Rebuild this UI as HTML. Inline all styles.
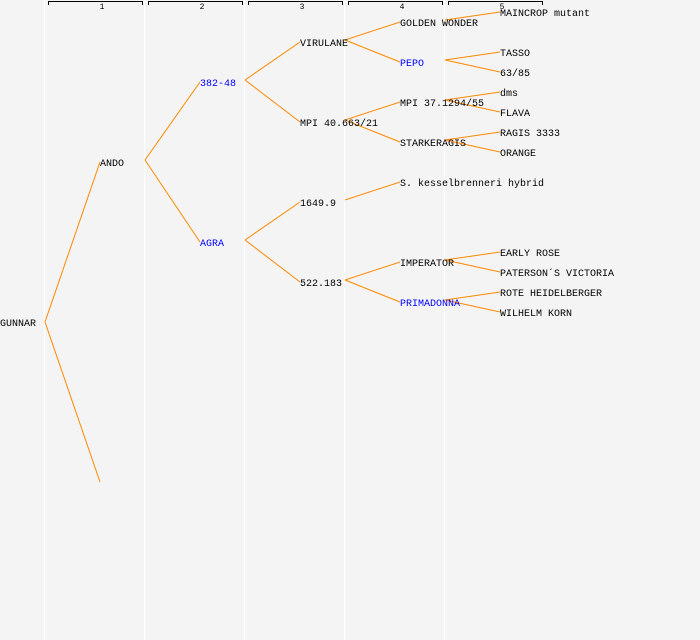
<!DOCTYPE html>
<html><head><meta charset="utf-8"><style>
html,body{margin:0;padding:0;background:#f4f4f4;}
svg{display:block;}
text{font-family:"Liberation Mono","DejaVu Sans Mono",monospace;font-size:10px;fill:#000;}
.b{fill:#0000ff;}
.n{font-size:8px;}
</style></head><body>
<svg width="700" height="640" xmlns="http://www.w3.org/2000/svg">
<rect width="700" height="640" fill="#f4f4f4"/>
<g stroke="#ffffff" stroke-width="1">
<line x1="44.5" y1="0" x2="44.5" y2="640"/><line x1="144.5" y1="0" x2="144.5" y2="640"/>
<line x1="244.5" y1="0" x2="244.5" y2="640"/><line x1="344.5" y1="0" x2="344.5" y2="640"/>
<line x1="444.5" y1="0" x2="444.5" y2="640"/>
</g>
<g stroke="#000" stroke-width="1" fill="none">
<path d="M48.5,5 V1.5 H142.5 V5"/><path d="M148.5,5 V1.5 H242.5 V5"/>
<path d="M248.5,5 V1.5 H342.5 V5"/><path d="M348.5,5 V1.5 H442.5 V5"/>
<path d="M448.5,5 V1.5 H542.5 V5"/>
</g>
<g class="n" text-anchor="middle">
<text class="n" x="102" y="9">1</text><text class="n" x="202" y="9">2</text>
<text class="n" x="302" y="9">3</text><text class="n" x="402" y="9">4</text>
<text class="n" x="502" y="9">5</text>
</g>
<g stroke="#ff8800" stroke-width="1" fill="none">
<line x1="45" y1="322" x2="100" y2="162"/><line x1="45" y1="322" x2="100" y2="482"/>
<line x1="145" y1="160" x2="200" y2="82"/><line x1="145" y1="160" x2="200" y2="242"/>
<line x1="245" y1="80" x2="300" y2="42"/><line x1="245" y1="80" x2="300" y2="122"/>
<line x1="245" y1="240" x2="300" y2="202"/><line x1="245" y1="240" x2="300" y2="282"/>
<line x1="345" y1="40" x2="400" y2="22"/><line x1="345" y1="40" x2="400" y2="62"/>
<line x1="345" y1="120" x2="400" y2="102"/><line x1="345" y1="120" x2="400" y2="142"/>
<line x1="345" y1="200" x2="400" y2="182"/>
<line x1="345" y1="280" x2="400" y2="262"/><line x1="345" y1="280" x2="400" y2="302"/>
<line x1="445" y1="20" x2="500" y2="12"/>
<line x1="445" y1="60" x2="500" y2="52"/><line x1="445" y1="60" x2="500" y2="72"/>
<line x1="445" y1="100" x2="500" y2="92"/><line x1="445" y1="100" x2="500" y2="112"/>
<line x1="445" y1="140" x2="500" y2="132"/><line x1="445" y1="140" x2="500" y2="152"/>
<line x1="445" y1="260" x2="500" y2="252"/><line x1="445" y1="260" x2="500" y2="272"/>
<line x1="445" y1="300" x2="500" y2="292"/><line x1="445" y1="300" x2="500" y2="312"/>
</g>
<text x="0" y="326">GUNNAR</text>
<text x="100" y="166">ANDO</text>
<text class="b" x="200" y="86">382-48</text>
<text class="b" x="200" y="246">AGRA</text>
<text x="300" y="46">VIRULANE</text>
<text x="300" y="126">MPI 40.663/21</text>
<text x="300" y="206">1649.9</text>
<text x="300" y="286">522.183</text>
<text x="400" y="26">GOLDEN WONDER</text>
<text class="b" x="400" y="66">PEPO</text>
<text x="400" y="106">MPI 37.1294/55</text>
<text x="400" y="146">STARKERAGIS</text>
<text x="400" y="186">S. kesselbrenneri hybrid</text>
<text x="400" y="266">IMPERATOR</text>
<text class="b" x="400" y="306">PRIMADONNA</text>
<text x="500" y="16">MAINCROP mutant</text>
<text x="500" y="56">TASSO</text>
<text x="500" y="76">63/85</text>
<text x="500" y="96">dms</text>
<text x="500" y="116">FLAVA</text>
<text x="500" y="136">RAGIS 3333</text>
<text x="500" y="156">ORANGE</text>
<text x="500" y="256">EARLY ROSE</text>
<text x="500" y="276">PATERSON´S VICTORIA</text>
<text x="500" y="296">ROTE HEIDELBERGER</text>
<text x="500" y="316">WILHELM KORN</text>
</svg>
</body></html>
